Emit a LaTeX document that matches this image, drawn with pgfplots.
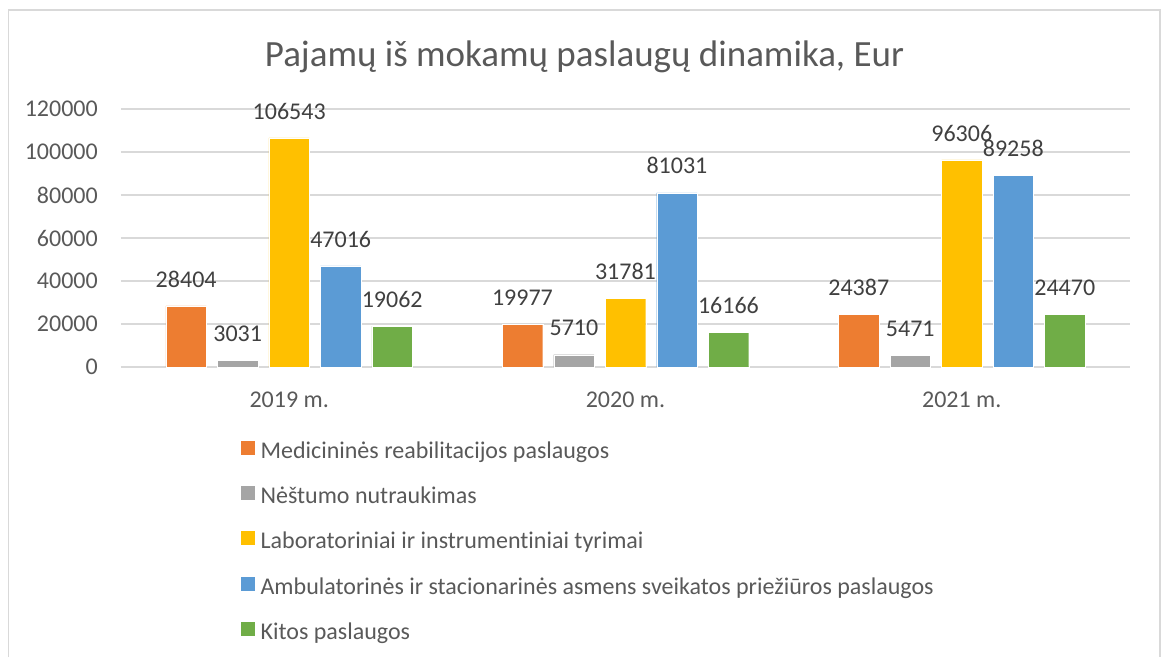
\documentclass[border=0pt]{standalone}
\usepackage{pgfplots}
\pgfplotsset{compat=1.18}
\usepackage{fontspec}
\setmainfont{Carlito}[Ligatures={NoCommon,NoContextual}]
\definecolor{cOr}{HTML}{ED7D31}
\definecolor{cGr}{HTML}{A5A5A5}
\definecolor{cYe}{HTML}{FFC000}
\definecolor{cBl}{HTML}{5B9BD5}
\definecolor{cGn}{HTML}{70AD47}
\definecolor{gridc}{HTML}{D9D9D9}
\definecolor{txt}{HTML}{595959}
\definecolor{lab}{HTML}{404040}
\begin{document}
\begin{tikzpicture}[x=1pt,y=1pt]
\useasboundingbox (0,0) rectangle (1163,657);
\draw[color=gridc, line width=1.5pt] (8.7,0) -- (8.7,647) -- (1160,647) -- (1160,0);
\node[anchor=base, text=txt, font=\fontsize{37}{44}\selectfont, inner sep=0pt] at (584.5,590) {Pajamų iš mokamų paslaugų dinamika, Eur};
\begin{axis}[
  at={(121pt,290pt)}, anchor=south west,
  scale only axis, width=1009pt, height=258pt,
  ymin=0, ymax=120000, xmin=-0.5, xmax=2.5,
  ytick={0,20000,40000,60000,80000,100000,120000},
  xtick={0,1,2}, xticklabels={2019 m.,2020 m.,2021 m.},
  scaled y ticks=false,
  /pgf/number format/.cd, fixed, precision=0, 1000 sep={}, assume math mode=true, /pgfplots/.cd,
  axis line style={draw=none},
  major tick length=0pt,
  ymajorgrids, grid style={color=gridc, line width=1.5pt},
  ticklabel style={font=\fontsize{24}{28}\selectfont, text=txt},
  yticklabel style={anchor=east, inner sep=0pt, xshift=-23pt},
  xticklabel style={anchor=north, inner sep=0pt, yshift=-25pt},
  ybar=11pt, bar width=40.5pt,
  nodes near coords,
  every node near coord/.append style={font=\fontsize{24}{28}\selectfont, text=lab, anchor=south, inner sep=0pt, yshift=18.5pt},
  legend style={draw=none, fill=none, at={(axis description cs:0.1189,-0.285)}, anchor=north west,
    font=\fontsize{24}{28}\selectfont, text=txt, row sep=21.8pt, inner sep=0pt,
    nodes={inner sep=0pt, text height=17pt, text depth=6pt}},
  legend cell align=left,
  legend image code/.code={\fill[#1,draw=none] (0pt,-2pt) rectangle (14pt,12pt);},
]
\addplot[fill=cOr, draw=white, line width=0.4pt] coordinates {(0,28404) (1,19977) (2,24387)};
\addplot[fill=cGr, draw=white, line width=0.4pt] coordinates {(0,3031) (1,5710) (2,5471)};
\addplot[fill=cYe, draw=white, line width=0.4pt] coordinates {(0,106543) (1,31781) (2,96306)};
\addplot[fill=cBl, draw=white, line width=0.4pt] coordinates {(0,47016) (1,81031) (2,89258)};
\addplot[fill=cGn, draw=white, line width=0.4pt] coordinates {(0,19062) (1,16166) (2,24470)};
\legend{\ Medicininės reabilitacijos paslaugos, \ Nėštumo nutraukimas, \ Laboratoriniai ir instrumentiniai tyrimai, \ Ambulatorinės ir stacionarinės asmens sveikatos priežiūros paslaugos, \ Kitos paslaugos}
\end{axis}
\end{tikzpicture}
\end{document}
